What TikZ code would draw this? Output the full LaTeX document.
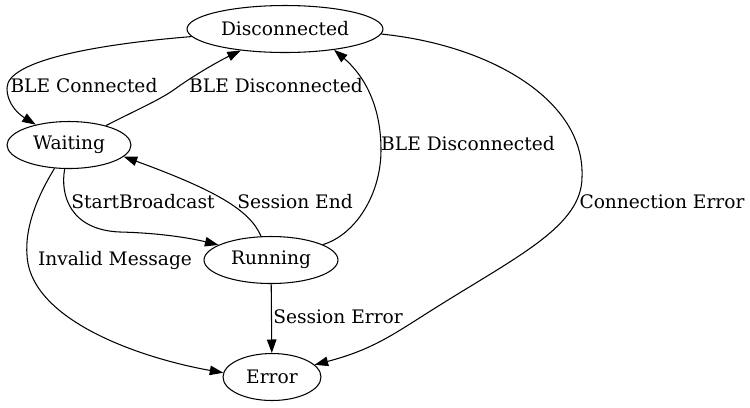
\documentclass[tikz,border=0pt]{standalone}
\usepackage{fontspec}
\setmainfont{DejaVu Serif}
\usetikzlibrary{arrows.meta,shapes.geometric}
\begin{document}
\begin{tikzpicture}[x=0.02cm, y=-0.02cm,
        every node/.style={font=\fontsize{10.6}{12.7}\selectfont},
        stnode/.style={draw, ellipse, line width=0.6pt, minimum height=0.94cm, inner sep=0pt},
        trans/.style={-{Triangle[length=0.27cm, width=0.19cm]}, line width=0.6pt},
        lbl/.style={inner sep=0pt}]
            \useasboundingbox (0,0) rectangle (750,407);

            \node[stnode, minimum width=3.92cm] (disc) at (285,29) {Disconnected};
            \node[stnode, minimum width=2.48cm] (wait) at (69,145) {Waiting};
            \node[stnode, minimum width=2.68cm] (run) at (271,260) {Running};
            \node[stnode, minimum width=1.96cm] (err) at (272,377) {Error};

            \node[lbl] (lconn) at (84,86) {BLE Connected};
            \node[lbl] (ldisc1) at (276,86) {BLE Disconnected};
            \node[lbl] (ldisc2) at (468,144) {BLE Disconnected};
            \node[lbl] (lconnerr) at (662,202) {Connection Error};
            \node[lbl] (lstart) at (143,202) {StartBroadcast};
            \node[lbl] (lend) at (295,202) {Session End};
            \node[lbl] (linval) at (115,260) {Invalid Message};
            \node[lbl, anchor=west] (lsesserr) at (273,317) {Session Error};

            \draw[trans] (disc) .. controls (100,44) and (7,60) .. (7,88)
                         .. controls (7,105) and (20,115) .. (wait);
            \draw[trans] (wait) .. controls (130,113) and (160,100) .. (175,89)
                         .. controls (190,78) and (215,63) .. (disc);
            \draw[trans] (run) .. controls (355,235) and (381,195) .. (381,150)
                         .. controls (381,100) and (360,72) .. (disc.-23);
            \draw[trans] (disc.-3) .. controls (490,45) and (585,100) .. (582,177)
                         .. controls (582,225) and (520,255) .. (440,305)
                         .. controls (395,333) and (375,349) .. (err.16);
            \draw[trans] (wait) .. controls (60,195) and (70,230) .. (120,232)
                         .. controls (160,233) and (190,238) .. (run.164);
            \draw[trans] (run) .. controls (250,210) and (215,190) .. (wait.-12);
            \draw[trans] (wait) .. controls (35,200) and (25,230) .. (27,255)
                         .. controls (30,320) and (140,358) .. (err.175);
            \draw[trans] (run) to (err);
        \end{tikzpicture}
\end{document}
